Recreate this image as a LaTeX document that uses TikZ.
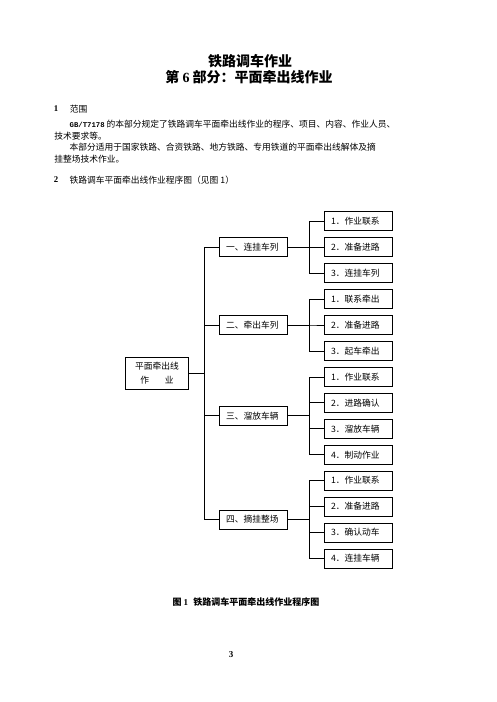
\documentclass[tikz,border=0pt]{standalone}
\usepackage{fontspec}
\setmainfont{Noto Sans CJK SC}
\newfontfamily\latin{Liberation Serif}
\newfontfamily\mono{Liberation Mono}

\begin{document}
\begin{tikzpicture}[x=1pt, y=-1pt, line width=0.8pt,
    every node/.style={font=\fontsize{8.75}{10}\selectfont, inner sep=0pt},
    txt/.style={anchor=west},
    box/.style={draw, line width=0.8pt, minimum height=18.8pt, text width=55pt, inner xsep=6.7pt, align=left},
    rootbox/.style={draw, line width=0.8pt, minimum width=63.4pt, minimum height=32pt, align=center, font=\fontsize{8.75}{13.3}\selectfont}]
    \useasboundingbox (0,0) rectangle (496,702);

    % Heading.
    \node[font=\fontsize{14}{16}\selectfont\bfseries] (title1) at (250,61) {铁路调车作业};
    \node[font=\fontsize{14}{16}\selectfont\bfseries] (title2) at (249,77.5) {第 {\latin 6} 部分：平面牵出线作业};

    % Section 1.
    \node[txt, font=\fontsize{8.75}{10}\selectfont\latin\bfseries] (num1) at (53.5,109) {1};
    \node[txt] (sec1) at (69.5,109) {范围};
    \node[txt] (par1a) at (69.3,124) {{\mono\fontsize{7.3}{10}\selectfont\bfseries GB/T7178} 的本部分规定了铁路调车平面牵出线作业的程序、项目、内容、作业人员、};
    \node[txt] (par1b) at (54,136) {技术要求等。};
    \node[txt] (par2a) at (69.3,147.5) {本部分适用于国家铁路、合资铁路、地方铁路、专用铁道的平面牵出线解体及摘};
    \node[txt] (par2b) at (54,159.5) {挂整场技术作业。};

    % Section 2.
    \node[txt, font=\fontsize{8.75}{10}\selectfont\latin\bfseries] (num2) at (53.5,180) {2};
    \node[txt] (sec2) at (69.3,180) {铁路调车平面牵出线作业程序图（见图 1）};

    % Root.
    \node[rootbox] (root) at (157,373.3) {平面牵出线\\作\hspace{1.8em}业};

    % Parts.
    \foreach \g/\k/\name in {1/1/{一、连挂车列}, 2/4/{二、牵出车列}, 3/7.5/{三、溜放车辆}, 4/11.5/{四、摘挂整场}}
        \node[box] (G-\g) at (253.5,{221.2+25.95*\k}) {\name};

    % Steps.
    \foreach \k/\name in {0/{1．作业联系}, 1/{2．准备进路}, 2/{3．连挂车列},
                          3/{1．联系牵出}, 4/{2．准备进路}, 5/{3．起车牵出},
                          6/{1．作业联系}, 7/{2．进路确认}, 8/{3．溜放车辆}, 9/{4．制动作业},
                          10/{1．作业联系}, 11/{2．准备进路}, 12/{3．确认动车}, 13/{4．连挂车辆}}
        \node[box] (S-\k) at (358.5,{221.2+25.95*\k}) {\name};

    % Root to parts.
    \foreach \g in {1,...,4}
        \draw (root.east) -- ++(15.6,0) |- (G-\g.west);

    % Parts to steps.
    \foreach \g/\a/\b in {1/0/2, 2/3/5, 3/6/9, 4/10/13}
        \foreach \k in {\a,...,\b}
            \draw (G-\g.east) -- ++(21.6,0) |- (S-\k.west);

    % Caption.
    \node[font=\fontsize{9}{10}\selectfont\bfseries] (caption) at (246,601.7) {图 {\latin 1}\hspace{0.6em}铁路调车平面牵出线作业程序图};
    \node[font=\fontsize{9}{10}\selectfont\latin\bfseries] (pageno) at (231,655) {3};

\end{tikzpicture}
\end{document}
